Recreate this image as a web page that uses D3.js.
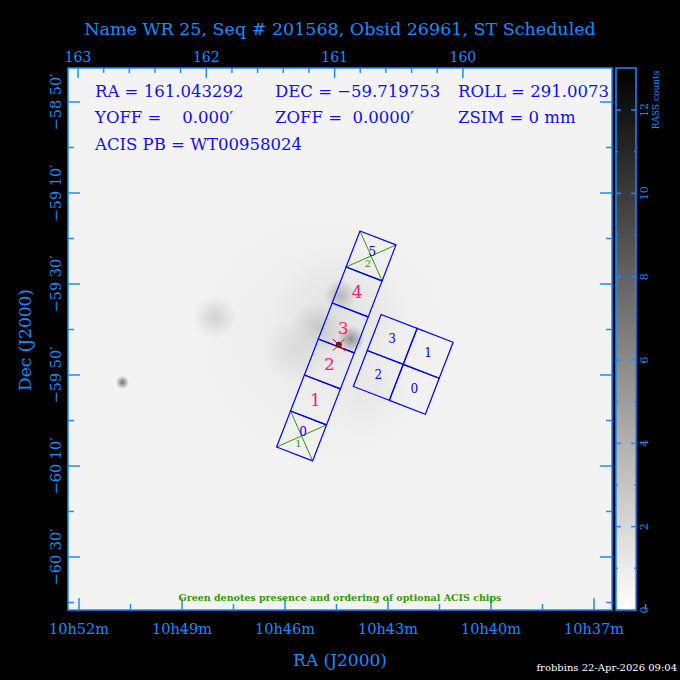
<!DOCTYPE html>
<html><head><meta charset="utf-8">
<script src="https://cdn.jsdelivr.net/npm/d3@7"></script>
<style>body{margin:0;background:#000}svg{display:block}</style>
</head><body>
<script>
const W=680,H=680;
const topTicks=[163,162,161,160];
const raTicks=["10h52m","10h49m","10h46m","10h43m","10h40m","10h37m"];
const decTicks=["\u221258 50\u2032","\u221259 10\u2032","\u221259 30\u2032","\u221259 50\u2032","\u221260 10\u2032","\u221260 30\u2032"];
const cbTicks=[0,2,4,6,8,10,12];
// diffuse emission blobs: [x frac, y frac, radius frac, counts]
const blobs=[[0.47,0.5,0.25,1.2],[0.5,0.45,0.12,1.5],[0.46,0.48,0.05,3],[0.5,0.42,0.03,4],[0.52,0.5,0.025,6],[0.27,0.46,0.04,2.5],[0.1,0.58,0.012,8],[0.42,0.52,0.06,2],[0.55,0.6,0.08,1.2]];
// ACIS chips in chip units: [u,v,label,kind]
const sChips=[[0,0,"5","opt"],[0,1,"4","s"],[0,2,"3","s"],[0,3,"2","s"],[0,4,"1","s"],[0,5,"0","opt"]];
const optOrder={"5":"2","0":"1"};
const iChips=[[1.29,1.82,"3"],[2.29,1.82,"1"],[1.29,2.82,"2"],[2.29,2.82,"0"]];
const aim=[0.55,2.95];
const blue="#1a8cff",ink="#1010f0";
const L=68,R=612,T=68,B=610;
const svg=d3.select("body").append("svg").attr("width",W).attr("height",H);
svg.append("rect").attr("width",W).attr("height",H).attr("fill","#000");
const px=d3.scaleLinear().domain([0,1]).range([L,R]);
const py=d3.scaleLinear().domain([0,1]).range([T,B]);
const cnt=d3.scaleLinear().domain([0,13]).range(["#ffffff","#000000"]);
const defs=svg.append("defs");
svg.append("rect").attr("x",L).attr("y",T).attr("width",R-L).attr("height",B-T).attr("fill","#f3f3f3");
blobs.forEach((b,i)=>{
  const g=defs.append("radialGradient").attr("id","g"+i);
  g.append("stop").attr("offset","0%").attr("stop-color",cnt(b[3])).attr("stop-opacity",0.9);
  g.append("stop").attr("offset","100%").attr("stop-color",cnt(b[3])).attr("stop-opacity",0);
  svg.append("circle").attr("cx",px(b[0])).attr("cy",py(b[1])).attr("r",b[2]*(R-L)).attr("fill","url(#g"+i+")");
});
// axes
const xTop=d3.scaleLinear().domain([163,159]).range([78,78+4*128.3]);
const xBot=d3.scalePoint().domain(raTicks).range([79,594]);
const yL=d3.scalePoint().domain(decTicks).range([102,557]);
const fr=svg.append("g").attr("stroke",blue).attr("stroke-width",1.5);
d3.range(163,159.9,-0.2).forEach(v=>{const x=xTop(v);if(x<L||x>R)return;const maj=Math.abs(v-Math.round(v))<1e-6;
  fr.append("line").attr("x1",x).attr("x2",x).attr("y1",T).attr("y2",T+(maj?10:5));});
d3.range(12).forEach(i=>{const x=79+i*51.5;const maj=i%2==0;
  fr.append("line").attr("x1",x).attr("x2",x).attr("y1",B).attr("y2",B-(maj?12:6));});
d3.range(-1,12).forEach(i=>{const y=102+i*45.5;if(y<T||y>B)return;const maj=i%2==0;
  fr.append("line").attr("x1",L).attr("x2",L+(maj?12:6)).attr("y1",y).attr("y2",y);
  fr.append("line").attr("x1",R).attr("x2",R-(maj?12:6)).attr("y1",y).attr("y2",y);});
fr.append("rect").attr("x",L).attr("y",T).attr("width",R-L).attr("height",B-T).attr("fill","none");
const ff="DejaVu Serif, serif";
svg.selectAll(".tt").data(topTicks).join("text").attr("x",d=>xTop(d)).attr("y",62).attr("text-anchor","middle")
 .attr("fill",blue).attr("font-family",ff).attr("font-size",14).text(d=>d);
svg.selectAll(".bt").data(raTicks).join("text").attr("x",d=>xBot(d)).attr("y",634).attr("text-anchor","middle")
 .attr("fill",blue).attr("font-family",ff).attr("font-size",14.5).text(d=>d);
svg.selectAll(".lt").data(decTicks).join("text").attr("transform",d=>`translate(61,${yL(d)}) rotate(-90)`).attr("text-anchor","middle")
 .attr("fill",blue).attr("font-family",ff).attr("font-size",14.5).text(d=>d);
svg.append("text").attr("x",340).attr("y",666).attr("text-anchor","middle").attr("fill",blue).attr("font-family",ff).attr("font-size",17).text("RA (J2000)");
svg.append("text").attr("transform","translate(31,340) rotate(-90)").attr("text-anchor","middle").attr("fill",blue).attr("font-family",ff).attr("font-size",17).text("Dec (J2000)");
svg.append("text").attr("x",340).attr("y",35).attr("text-anchor","middle").attr("fill",blue).attr("font-family",ff).attr("font-size",17.5).text("Name WR 25, Seq # 201568, Obsid 26961, ST Scheduled");
// info text
const info=[["RA = 161.043292",95,97],["DEC = \u221259.719753",275,97],["ROLL = 291.0073",458,97],["YOFF =    0.000\u2032",95,123],["ZOFF =  0.0000\u2032",275,123],["ZSIM = 0 mm",458,123],["ACIS PB = WT00958024",95,150]];
svg.selectAll(".inf").data(info).join("text").attr("x",d=>d[1]).attr("y",d=>d[2]).attr("fill",ink).attr("font-family",ff).attr("font-size",16.5).style("white-space","pre").text(d=>d[0]);
svg.append("text").attr("x",340).attr("y",601).attr("text-anchor","middle").attr("fill","#339900").attr("font-family",ff).attr("font-size",9.5).attr("font-weight","bold").text("Green denotes presence and ordering of optional ACIS chips");
svg.append("text").attr("x",677).attr("y",671).attr("text-anchor","end").attr("fill","#fff").attr("font-family",ff).attr("font-size",10).text("frobbins 22-Apr-2026 09:04");
// colorbar
const cy=d3.scaleLinear().domain([0,12]).range([610,110]);
const cg=defs.append("linearGradient").attr("id","cb").attr("x1",0).attr("x2",0).attr("y1",1).attr("y2",0);
cg.append("stop").attr("offset","0%").attr("stop-color",cnt(0));
cg.append("stop").attr("offset","100%").attr("stop-color",cnt(13));
svg.append("rect").attr("x",616).attr("y",T).attr("width",20).attr("height",B-T).attr("fill","url(#cb)");
const cb=svg.append("g").attr("stroke",blue).attr("stroke-width",1.5);
d3.range(0,13).forEach(v=>{const y=cy(v),l=v%2==0?5:2;
  cb.append("line").attr("x1",616).attr("x2",616+l).attr("y1",y).attr("y2",y);
  cb.append("line").attr("x1",636).attr("x2",636-l).attr("y1",y).attr("y2",y);});
cb.append("rect").attr("x",616).attr("y",T).attr("width",20).attr("height",B-T).attr("fill","none");
svg.selectAll(".ct").data(cbTicks).join("text").attr("transform",d=>`translate(648,${cy(d)}) rotate(-90)`).attr("text-anchor","middle")
 .attr("fill",blue).attr("font-family",ff).attr("font-size",11).text(d=>d);
svg.append("text").attr("transform","translate(659,100) rotate(-90)").attr("text-anchor","middle").attr("fill",blue).attr("font-family",ff).attr("font-size",9).text("RASS counts");
// chips
const cs=d3.scaleLinear().domain([0,1]).range([0,38.5]);
const O=[360,231],U=[0.935,0.361],V=[-0.361,0.935];
const P=(u,v)=>[O[0]+cs(u)*U[0]+cs(v)*V[0],O[1]+cs(u)*U[1]+cs(v)*V[1]];
const poly=(u,v)=>[P(u,v),P(u+1,v),P(u+1,v+1),P(u,v+1)];
const ch=svg.append("g");
sChips.concat(iChips.map(c=>[c[0],c[1],c[2],"i"])).forEach(c=>{
  const pts=poly(c[0],c[1]);
  if(c[3]=="opt"){
    ch.append("line").attr("x1",pts[0][0]).attr("y1",pts[0][1]).attr("x2",pts[2][0]).attr("y2",pts[2][1]).attr("stroke","#339900");
    ch.append("line").attr("x1",pts[1][0]).attr("y1",pts[1][1]).attr("x2",pts[3][0]).attr("y2",pts[3][1]).attr("stroke","#339900");
  }
  ch.append("polygon").attr("points",pts.map(p=>p.join(",")).join(" ")).attr("fill","none").attr("stroke","#0000ff").attr("stroke-width",1.2);
  const c0=P(c[0]+0.5,c[1]+0.5);
  if(c[3]=="s"){
    ch.append("text").attr("x",c0[0]).attr("y",c0[1]+6).attr("text-anchor","middle").attr("fill","#ff1a75").attr("font-family",ff).attr("font-size",17).text(c[2]);
  } else if(c[3]=="opt"){
    const a=P(c[0]+0.5,c[1]+0.4),b=P(c[0]+0.5,c[1]+0.72);
    ch.append("text").attr("x",a[0]).attr("y",a[1]+4).attr("text-anchor","middle").attr("fill","#0000ff").attr("font-family",ff).attr("font-size",12).text(c[2]);
    ch.append("text").attr("x",b[0]).attr("y",b[1]+3).attr("text-anchor","middle").attr("fill","#339900").attr("font-family",ff).attr("font-size",10).text(optOrder[c[2]]);
  } else {
    ch.append("text").attr("x",c0[0]).attr("y",c0[1]+4).attr("text-anchor","middle").attr("fill","#0000ff").attr("font-family",ff).attr("font-size",12).text(c[2]);
  }
});
// aimpoint
const ap=P(aim[0],aim[1]);
ch.append("circle").attr("cx",ap[0]).attr("cy",ap[1]).attr("r",3).attr("fill","#202040");
[[-6,-6,6,6],[-6,6,6,-6]].forEach(d=>ch.append("line").attr("x1",ap[0]+d[0]).attr("y1",ap[1]+d[1]).attr("x2",ap[0]+d[2]).attr("y2",ap[1]+d[3]).attr("stroke","#ff0000"));
</script></body></html>
